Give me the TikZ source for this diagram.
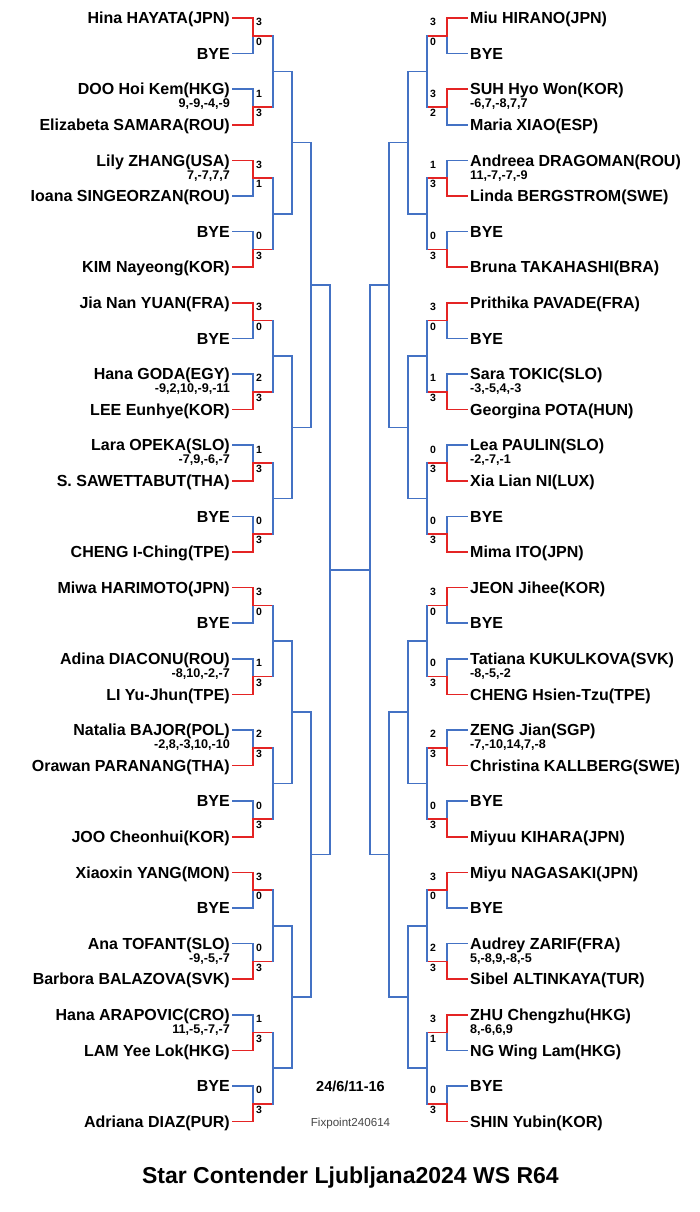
\documentclass[tikz,border=0pt]{standalone}
\usepackage{fontspec}
\setmainfont{Liberation Sans}
\definecolor{bbl}{RGB}{68,114,196}
\definecolor{rrd}{RGB}{228,36,36}
\tikzset{
  bl/.style={draw=bbl,line width=1.6pt,line cap=rect},
  rd/.style={draw=rrd,line width=1.6pt,line cap=rect},
  pname/.style={inner sep=0pt,font=\fontsize{16}{18}\selectfont\bfseries},
  sc/.style={inner sep=0pt,font=\fontsize{10.5}{12}\selectfont\bfseries},
  det/.style={inner sep=0pt,font=\fontsize{12.6}{14}\selectfont\bfseries},
}
% #1 pair index, #2 top name, #3 top score, #4 bottom name, #5 bottom score, #6 detail, #7 winner (1 top / 2 bottom)
\newcommand\LPair[7]{%
  \pgfmathsetmacro\yt{18+71.2*#1}%
  \pgfmathsetmacro\yb{\yt+35.6}%
  \pgfmathsetmacro\ym{\yt+17.8}%
  \node[pname,anchor=base east] (L#1a) at (230,\yt+5.7) {#2};
  \node[pname,anchor=base east] (L#1b) at (230,\yb+5.7) {#4};
  \coordinate (L#1as) at (233,\yt);
  \coordinate (L#1bs) at (233,\yb);
  \coordinate (L#1aj) at (253,\yt);
  \coordinate (L#1bj) at (253,\yb);
  \coordinate (L-1-#1-out) at (253,\ym);
  \coordinate (L-1-#1-in) at (273,\ym);
  \ifnum#7=1
    \draw[bl] (L#1bs) -- (L#1bj) -- (L-1-#1-out);
    \draw[rd] (L#1as) -- (L#1aj) -- (L-1-#1-out) -- (L-1-#1-in);
  \else
    \draw[bl] (L#1as) -- (L#1aj) -- (L-1-#1-out);
    \draw[rd] (L#1bs) -- (L#1bj) -- (L-1-#1-out) -- (L-1-#1-in);
  \fi
  \node[sc,anchor=west] (L#1sa) at (256,\yt+4.2) {#3};
  \node[sc,anchor=west] (L#1sb) at (256,\ym+6) {#5};
  \if\relax\detokenize{#6}\relax\else
    \node[det,anchor=base east] (L#1d) at (230,\yt+18.6) {#6};
  \fi
}
\newcommand\RPair[7]{%
  \pgfmathsetmacro\yt{18+71.2*#1}%
  \pgfmathsetmacro\yb{\yt+35.6}%
  \pgfmathsetmacro\ym{\yt+17.8}%
  \node[pname,anchor=base west] (R#1a) at (470,\yt+5.7) {#2};
  \node[pname,anchor=base west] (R#1b) at (470,\yb+5.7) {#4};
  \coordinate (R#1as) at (467,\yt);
  \coordinate (R#1bs) at (467,\yb);
  \coordinate (R#1aj) at (447,\yt);
  \coordinate (R#1bj) at (447,\yb);
  \coordinate (R-1-#1-out) at (447,\ym);
  \coordinate (R-1-#1-in) at (427,\ym);
  \ifnum#7=1
    \draw[bl] (R#1bs) -- (R#1bj) -- (R-1-#1-out);
    \draw[rd] (R#1as) -- (R#1aj) -- (R-1-#1-out) -- (R-1-#1-in);
  \else
    \draw[bl] (R#1as) -- (R#1aj) -- (R-1-#1-out);
    \draw[rd] (R#1bs) -- (R#1bj) -- (R-1-#1-out) -- (R-1-#1-in);
  \fi
  \node[sc] (R#1sa) at (433,\yt+4.2) {#3};
  \node[sc] (R#1sb) at (433,\ym+6) {#5};
  \if\relax\detokenize{#6}\relax\else
    \node[det,anchor=base west] (R#1d) at (470,\yt+18.6) {#6};
  \fi
}
\begin{document}
\begin{tikzpicture}[x=1pt,y=-1pt]
\fill[white] (0,0) rectangle (700,1212);
\useasboundingbox (0,0) rectangle (700,1212);
% left half
\LPair{0}{Hina HAYATA(JPN)}{3}{BYE}{0}{}{1}
\LPair{1}{DOO Hoi Kem(HKG)}{1}{Elizabeta SAMARA(ROU)}{3}{9,-9,-4,-9}{2}
\LPair{2}{Lily ZHANG(USA)}{3}{Ioana SINGEORZAN(ROU)}{1}{7,-7,7,7}{1}
\LPair{3}{BYE}{0}{KIM Nayeong(KOR)}{3}{}{2}
\LPair{4}{Jia Nan YUAN(FRA)}{3}{BYE}{0}{}{1}
\LPair{5}{Hana GODA(EGY)}{2}{LEE Eunhye(KOR)}{3}{-9,2,10,-9,-11}{2}
\LPair{6}{Lara OPEKA(SLO)}{1}{S. SAWETTABUT(THA)}{3}{-7,9,-6,-7}{2}
\LPair{7}{BYE}{0}{CHENG I-Ching(TPE)}{3}{}{2}
\LPair{8}{Miwa HARIMOTO(JPN)}{3}{BYE}{0}{}{1}
\LPair{9}{Adina DIACONU(ROU)}{1}{LI Yu-Jhun(TPE)}{3}{-8,10,-2,-7}{2}
\LPair{10}{Natalia BAJOR(POL)}{2}{Orawan PARANANG(THA)}{3}{-2,8,-3,10,-10}{2}
\LPair{11}{BYE}{0}{JOO Cheonhui(KOR)}{3}{}{2}
\LPair{12}{Xiaoxin YANG(MON)}{3}{BYE}{0}{}{1}
\LPair{13}{Ana TOFANT(SLO)}{0}{Barbora BALAZOVA(SVK)}{3}{-9,-5,-7}{2}
\LPair{14}{Hana ARAPOVIC(CRO)}{1}{LAM Yee Lok(HKG)}{3}{11,-5,-7,-7}{2}
\LPair{15}{BYE}{0}{Adriana DIAZ(PUR)}{3}{}{2}
% right half
\RPair{0}{Miu HIRANO(JPN)}{3}{BYE}{0}{}{1}
\RPair{1}{SUH Hyo Won(KOR)}{3}{Maria XIAO(ESP)}{2}{-6,7,-8,7,7}{1}
\RPair{2}{Andreea DRAGOMAN(ROU)}{1}{Linda BERGSTROM(SWE)}{3}{11,-7,-7,-9}{2}
\RPair{3}{BYE}{0}{Bruna TAKAHASHI(BRA)}{3}{}{2}
\RPair{4}{Prithika PAVADE(FRA)}{3}{BYE}{0}{}{1}
\RPair{5}{Sara TOKIC(SLO)}{1}{Georgina POTA(HUN)}{3}{-3,-5,4,-3}{2}
\RPair{6}{Lea PAULIN(SLO)}{0}{Xia Lian NI(LUX)}{3}{-2,-7,-1}{2}
\RPair{7}{BYE}{0}{Mima ITO(JPN)}{3}{}{2}
\RPair{8}{JEON Jihee(KOR)}{3}{BYE}{0}{}{1}
\RPair{9}{Tatiana KUKULKOVA(SVK)}{0}{CHENG Hsien-Tzu(TPE)}{3}{-8,-5,-2}{2}
\RPair{10}{ZENG Jian(SGP)}{2}{Christina KALLBERG(SWE)}{3}{-7,-10,14,7,-8}{2}
\RPair{11}{BYE}{0}{Miyuu KIHARA(JPN)}{3}{}{2}
\RPair{12}{Miyu NAGASAKI(JPN)}{3}{BYE}{0}{}{1}
\RPair{13}{Audrey ZARIF(FRA)}{2}{Sibel ALTINKAYA(TUR)}{3}{5,-8,9,-8,-5}{2}
\RPair{14}{ZHU Chengzhu(HKG)}{3}{NG Wing Lam(HKG)}{1}{8,-6,6,9}{1}
\RPair{15}{BYE}{0}{SHIN Yubin(KOR)}{3}{}{2}
% later rounds
\foreach \lv/\xo/\xi in {2/273/292,3/292/311,4/311/330} {
  \pgfmathtruncatemacro\ng{32/2^\lv-1}
  \pgfmathtruncatemacro\pl{\lv-1}
  \foreach \g in {0,...,\ng} {
    \pgfmathsetmacro\yc{18+35.6*(\g*2^\lv+(2^\lv-1)/2)}
    \pgfmathtruncatemacro\ga{2*\g}
    \pgfmathtruncatemacro\gb{2*\g+1}
    \coordinate (L-\lv-\g-out) at (\xo,\yc);
    \coordinate (L-\lv-\g-in) at (\xi,\yc);
    \coordinate (R-\lv-\g-out) at (700-\xo,\yc);
    \coordinate (R-\lv-\g-in) at (700-\xi,\yc);
    \draw[bl] (L-\pl-\ga-in) -- (L-\pl-\gb-in);
    \draw[bl] (L-\lv-\g-out) -- (L-\lv-\g-in);
    \draw[bl] (R-\pl-\ga-in) -- (R-\pl-\gb-in);
    \draw[bl] (R-\lv-\g-out) -- (R-\lv-\g-in);
  }
}
\coordinate (Lfin) at (330,569.8);
\coordinate (Rfin) at (370,569.8);
\draw[bl] (L-4-0-in) -- (L-4-1-in);
\draw[bl] (R-4-0-in) -- (R-4-1-in);
\draw[bl] (Lfin) -- (Rfin);
% texts
\node[inner sep=0pt,anchor=base,font=\fontsize{14.5}{16}\selectfont\bfseries] (date) at (350.5,1091.2) {24/6/11-16};
\node[inner sep=0pt,anchor=base,font=\fontsize{11.6}{14}\selectfont,text=black!72] (fix) at (350.5,1126.8) {Fixpoint240614};
\node[inner sep=0pt,anchor=base,font=\fontsize{23}{26}\selectfont\bfseries] (title) at (350.4,1183) {Star Contender Ljubljana2024 WS R64};
\end{tikzpicture}
\end{document}
